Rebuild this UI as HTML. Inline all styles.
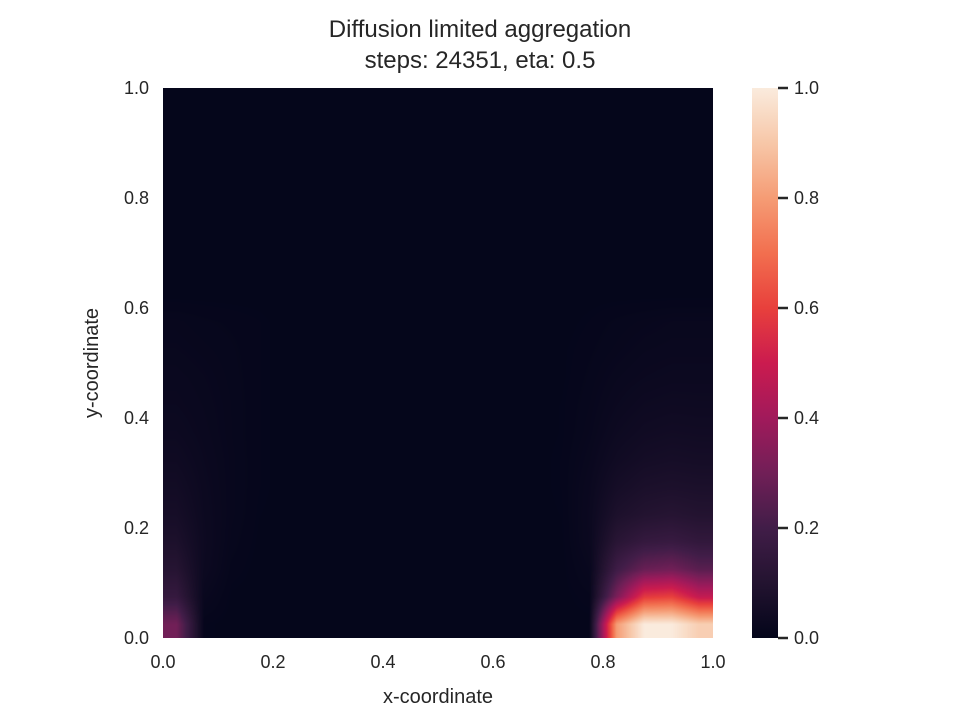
<!DOCTYPE html>
<html><head><meta charset="utf-8"><style>
body{margin:0;background:#fff;font-family:"Liberation Sans",sans-serif;}
svg text{font-family:"Liberation Sans",sans-serif;fill:#262626;}
#heat{position:absolute;left:163px;top:88px;width:550px;height:550px;}
</style></head><body>
<canvas id="heat" width="550" height="550"></canvas>
<svg id="chart" width="960" height="720" xmlns="http://www.w3.org/2000/svg" style="position:absolute;left:0;top:0">
<defs>
<linearGradient id="cbGrad" x1="0" y1="1" x2="0" y2="0">
<stop offset="0" stop-color="rgb(3,5,26)"/><stop offset="0.1" stop-color="rgb(35,19,48)"/><stop offset="0.2" stop-color="rgb(65,29,72)"/><stop offset="0.3" stop-color="rgb(113,31,87)"/><stop offset="0.4" stop-color="rgb(161,26,91)"/><stop offset="0.5" stop-color="rgb(203,27,79)"/><stop offset="0.6" stop-color="rgb(232,64,60)"/><stop offset="0.7" stop-color="rgb(242,111,79)"/><stop offset="0.8" stop-color="rgb(245,156,117)"/><stop offset="0.9" stop-color="rgb(247,199,168)"/><stop offset="1" stop-color="rgb(250,235,221)"/>
</linearGradient>
</defs>
<text x="480" y="37" text-anchor="middle" font-size="24">Diffusion limited aggregation</text>
<text x="480" y="68" text-anchor="middle" font-size="24">steps: 24351, eta: 0.5</text>
<g id="xticks"></g><g id="yticks"></g>
<text x="438" y="703" text-anchor="middle" font-size="20">x-coordinate</text>
<text transform="translate(98,363) rotate(-90)" text-anchor="middle" font-size="20">y-coordinate</text>
<rect x="752" y="88" width="26" height="550" fill="url(#cbGrad)"/>
<g id="cbticks"></g>
</svg>
<script>
const tickValues=[0,0.2,0.4,0.6,0.8,1.0];
const tickLabels=["0.0","0.2","0.4","0.6","0.8","1.0"];
// rows from top (y=0.975) to bottom (y=0.025), 20 columns x=0.025..0.975
const rowTop=[0.005,0.005,0.005,0.005,0.005,0.005,0.005,0.005,0.005,0.005,0.005,0.005,0.005,0.005,0.005,0.005,0.005,0.005,0.005,0.005];
const gridRows=[
rowTop,rowTop,rowTop,rowTop,rowTop,rowTop,rowTop,rowTop,
[0.015,0.012,0.01,0.008,0.005,0.005,0.005,0.005,0.005,0.005,0.005,0.005,0.005,0.005,0.005,0.008,0.012,0.015,0.018,0.018],
[0.018,0.015,0.012,0.008,0.005,0.005,0.005,0.005,0.005,0.005,0.005,0.005,0.005,0.005,0.006,0.01,0.015,0.02,0.022,0.022],
[0.022,0.018,0.013,0.008,0.005,0.005,0.005,0.005,0.005,0.005,0.005,0.005,0.005,0.005,0.006,0.012,0.02,0.025,0.028,0.028],
[0.025,0.02,0.014,0.008,0.005,0.005,0.005,0.005,0.005,0.005,0.005,0.005,0.005,0.005,0.007,0.014,0.025,0.033,0.036,0.035],
[0.03,0.022,0.014,0.008,0.005,0.005,0.005,0.005,0.005,0.005,0.005,0.005,0.005,0.005,0.007,0.016,0.032,0.042,0.046,0.044],
[0.038,0.025,0.015,0.008,0.005,0.005,0.005,0.005,0.005,0.005,0.005,0.005,0.005,0.005,0.008,0.02,0.042,0.055,0.06,0.057],
[0.048,0.028,0.015,0.008,0.005,0.005,0.005,0.005,0.005,0.005,0.005,0.005,0.005,0.005,0.008,0.024,0.058,0.075,0.08,0.076],
[0.06,0.03,0.015,0.007,0.005,0.005,0.005,0.005,0.005,0.005,0.005,0.005,0.005,0.005,0.007,0.026,0.08,0.1,0.11,0.1],
[0.08,0.032,0.013,0.006,0.005,0.005,0.005,0.005,0.005,0.005,0.005,0.005,0.005,0.005,0.006,0.025,0.12,0.16,0.17,0.15],
[0.11,0.03,0.01,0.005,0.005,0.005,0.005,0.005,0.005,0.005,0.005,0.005,0.005,0.005,0.005,0.018,0.19,0.28,0.3,0.25],
[0.16,0.02,0.006,0.005,0.005,0.005,0.005,0.005,0.005,0.005,0.005,0.005,0.005,0.005,0.005,0.01,0.32,0.58,0.6,0.48],
[0.3,0.008,0.005,0.005,0.005,0.005,0.005,0.005,0.005,0.005,0.005,0.005,0.005,0.005,0.005,0.005,0.8,1.0,1.0,0.92]
];
const PX=163,PY=88,PW=550,PH=550;
const xs=v=>PX+v*PW, ys=v=>PY+PH-v*PH;
const stops=[[0,[3,5,26]],[0.1,[35,19,48]],[0.2,[65,29,72]],[0.3,[113,31,87]],[0.4,[161,26,91]],[0.5,[203,27,79]],[0.6,[232,64,60]],[0.7,[242,111,79]],[0.8,[245,156,117]],[0.9,[247,199,168]],[1,[250,235,221]]];
function cmap(v){v=Math.max(0,Math.min(1,v));for(let i=1;i<stops.length;i++){if(v<=stops[i][0]){const a=stops[i-1],b=stops[i],t=(v-a[0])/(b[0]-a[0]);return a[1].map((c,k)=>Math.round(c+(b[1][k]-c)*t));}}return [250,235,221];}
const nR=gridRows.length,nC=gridRows[0].length;
function val(fx,fy){
  let gx=fx*nC-0.5, gy=fy*nR-0.5;
  gx=Math.max(0,Math.min(nC-1,gx)); gy=Math.max(0,Math.min(nR-1,gy));
  const x0=Math.floor(gx),y0=Math.floor(gy),x1=Math.min(nC-1,x0+1),y1=Math.min(nR-1,y0+1),tx=gx-x0,ty=gy-y0;
  const a=gridRows[y0][x0]*(1-tx)+gridRows[y0][x1]*tx, b=gridRows[y1][x0]*(1-tx)+gridRows[y1][x1]*tx;
  return a*(1-ty)+b*ty;
}
const cv=document.getElementById('heat'),ctx=cv.getContext('2d');
const img=ctx.createImageData(PW,PH);
for(let y=0;y<PH;y++)for(let x=0;x<PW;x++){
  const c=cmap(val((x+0.5)/PW,(y+0.5)/PH)),i=(y*PW+x)*4;
  img.data[i]=c[0];img.data[i+1]=c[1];img.data[i+2]=c[2];img.data[i+3]=255;
}
ctx.putImageData(img,0,0);
const NS="http://www.w3.org/2000/svg";
const xg=document.getElementById('xticks'),yg=document.getElementById('yticks'),cg=document.getElementById('cbticks');
tickValues.forEach((v,i)=>{
  let t=document.createElementNS(NS,'text');t.setAttribute('x',xs(v));t.setAttribute('y',668);t.setAttribute('text-anchor','middle');t.setAttribute('font-size','18');t.textContent=tickLabels[i];
  
  
  xg.appendChild(t);
  t=document.createElementNS(NS,'text');t.setAttribute('x',149);t.setAttribute('y',ys(v)+6);t.setAttribute('text-anchor','end');t.setAttribute('font-size','18');t.textContent=tickLabels[i];
  
  
  yg.appendChild(t);
  const l=document.createElementNS(NS,'line');l.setAttribute('x1',778);l.setAttribute('x2',788);l.setAttribute('y1',ys(v));l.setAttribute('y2',ys(v));l.setAttribute('stroke','#262626');l.setAttribute('stroke-width','2.5');
  
  
  cg.appendChild(l);
  t=document.createElementNS(NS,'text');t.setAttribute('x',794);t.setAttribute('y',ys(v)+6);t.setAttribute('font-size','18');t.textContent=tickLabels[i];
  
  
  cg.appendChild(t);
});
</script>
</body></html>
